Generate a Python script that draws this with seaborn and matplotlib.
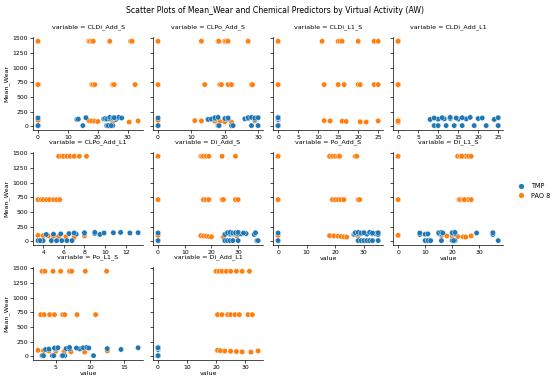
import matplotlib
matplotlib.use("Agg")
import matplotlib.pyplot as plt
import numpy as np
import pandas as pd
import seaborn as sns

# samples: 8 x PAO 8 @1450, 8 x PAO 8 @710, 8 x PAO 8 low, 8 x TMP @10, 8 x TMP @~120, 8 x TMP @~140
fluid = ["PAO 8"] * 24 + ["TMP"] * 24
mean_wear = (
    [1450] * 8
    + [710] * 8
    + [100, 95, 90, 85, 80, 75, 70, 90]
    + [10] * 8
    + [115, 120, 125, 130, 120, 125, 130, 115]
    + [140, 145, 150, 140, 145, 150, 140, 145]
)

cldi_add_s = [0, 17, 17.5, 18, 18.5, 24, 31, 31.5,
              0, 18, 18.5, 19, 25, 25.5, 32.5, 0,
              0, 17, 18, 19, 20, 25, 30.5, 33.5,
              0, 15, 23, 24, 25, 0, 23.5, 24.5,
              13, 13.5, 22, 22.5, 23, 24, 25, 26,
              0, 16, 24, 25, 26, 27, 28, 25.5]
clpo_add_s = [0, 13, 18, 20, 20.5, 21, 27, 18.2,
              0, 14, 18.5, 19, 21, 22, 28, 28.3,
              0, 11, 13, 17, 18.5, 20, 22, 29,
              0, 18, 22, 22.5, 28, 30, 0, 18.3,
              15, 16, 17, 20, 21, 26, 27, 29,
              0, 17, 18, 21, 27, 28, 29, 30]
cldi_l1_s = [0, 11, 15, 15.5, 16, 20, 24, 25,
             0, 11.5, 15, 16.5, 20, 20.5, 24, 25,
             0, 11.5, 13, 16, 17, 20.5, 22, 25,
             0, 0, 0, 0, 0, 0, 0, 0,
             0, 0, 0, 0, 0, 0, 0, 0,
             0, 0, 0, 0, 0, 0, 0, 0]
cldi_add_l1 = [0, 0, 0, 0, 0, 0, 0, 0,
               0, 0, 0, 0, 0, 0, 0, 0,
               0, 0, 0, 0, 0, 0, 0, 0,
               9, 10, 12, 14, 16, 19, 22, 25,
               8, 10, 11.5, 13, 15, 17, 20, 24,
               9, 11, 13, 14.5, 16, 18, 21, 25]
clpo_add_l1 = [5.5, 5.8, 6.0, 6.3, 6.6, 7.0, 7.5, 8.2,
               3.5, 3.8, 4.0, 4.3, 4.6, 5.0, 5.3, 5.6,
               3.5, 4.0, 4.5, 5.0, 5.5, 6.2, 7.0, 8.0,
               3.5, 4.0, 4.8, 5.3, 5.8, 6.3, 6.8, 3.7,
               4.3, 5.0, 5.7, 6.5, 7.2, 8.0, 9.0, 9.5,
               7.0, 8.0, 9.0, 9.9, 10.8, 11.5, 12.4, 13.2]
di_add_s = [0, 16, 16.5, 17, 18, 19, 24, 29,
            0, 17, 18, 19, 24, 24.5, 29, 30,
            0, 16, 17, 18, 19, 20, 24.5, 29.5,
            0, 25, 26, 27, 28, 30, 37, 37.5,
            25, 27, 28, 29, 30, 31, 33, 36,
            0, 26, 27, 28, 29, 30, 32, 36.5]
po_add_s = [0, 18, 19, 20, 21, 27, 27.5, 21.5,
            0, 19, 20, 21, 22, 23, 28, 28.5,
            0, 18, 19.5, 21, 22, 23, 24, 28,
            0, 28, 29, 30, 31, 32, 33, 35,
            26.5, 27, 28, 29, 31, 33, 34, 35,
            0, 27, 28, 29, 30, 32, 33, 35]
di_l1_s = [0, 22, 23, 24, 25, 26, 27, 23.5,
           0, 22.5, 23, 24, 25, 26, 27, 24.5,
           0, 16, 18, 20, 22, 24, 25, 27,
           10, 11, 12, 16, 20, 21, 37, 20.5,
           8, 10, 11, 15, 16, 20, 21, 35,
           8, 15, 16, 16.5, 20, 21, 29, 35]
po_l1_s = [3.0, 3.4, 4.6, 5.7, 7.0, 7.3, 9.3, 12.4,
           2.8, 3.3, 4.1, 4.8, 6.0, 6.3, 8.1, 10.8,
           2.4, 3.2, 4.0, 5.0, 6.2, 7.2, 9.2, 12.5,
           3.0, 4.5, 5.9, 6.3, 10.5, 3.2, 4.7, 6.0,
           3.5, 4.0, 5.0, 6.5, 7.0, 8.5, 12.5, 14.5,
           4.8, 5.3, 7.0, 8.0, 9.0, 9.5, 9.8, 17.0]
di_add_l1 = [20, 21, 22, 23.5, 25, 27, 29, 31.5,
             20.5, 22, 24, 25, 26.5, 28, 31, 32.5,
             20.5, 21.5, 23, 25, 27, 29, 32, 34.5,
             0, 0, 0, 0, 0, 0, 0, 0,
             0, 0, 0, 0, 0, 0, 0, 0,
             0, 0, 0, 0, 0, 0, 0, 0]

predictors = {
    "CLDi_Add_S": cldi_add_s,
    "CLPo_Add_S": clpo_add_s,
    "CLDi_L1_S": cldi_l1_s,
    "CLDi_Add_L1": cldi_add_l1,
    "CLPo_Add_L1": clpo_add_l1,
    "Di_Add_S": di_add_s,
    "Po_Add_S": po_add_s,
    "Di_L1_S": di_l1_s,
    "Po_L1_S": po_l1_s,
    "Di_Add_L1": di_add_l1,
}

wide = pd.DataFrame({"Fluid": fluid, "Mean_Wear": mean_wear, **predictors})
long = wide.melt(id_vars=["Fluid", "Mean_Wear"], value_vars=list(predictors))

plt.rcParams["font.size"] = 4.6
plt.rcParams["xtick.labelsize"] = 4.4
plt.rcParams["ytick.labelsize"] = 4.4
plt.rcParams["axes.labelsize"] = 4.6
plt.rcParams["axes.titlesize"] = 4.6
plt.rcParams["legend.fontsize"] = 4.7
plt.rcParams["xtick.major.size"] = 2
plt.rcParams["ytick.major.size"] = 2
plt.rcParams["xtick.major.width"] = 0.5
plt.rcParams["ytick.major.width"] = 0.5
plt.rcParams["axes.linewidth"] = 0.5
plt.rcParams["xtick.major.pad"] = 1.5
plt.rcParams["ytick.major.pad"] = 1.5

g = sns.relplot(
    data=long,
    x="value",
    y="Mean_Wear",
    hue="Fluid",
    hue_order=["TMP", "PAO 8"],
    col="variable",
    col_wrap=4,
    kind="scatter",
    facet_kws={"sharex": False, "sharey": True},
    height=1.0,
    aspect=1.0,
    s=15,
    linewidth=0.3,
)

g.figure.set_size_inches(5.5, 3.82)
g.figure.subplots_adjust(left=0.06, right=0.915, top=0.903, bottom=0.058,
                         wspace=0.09, hspace=0.24)
for ax in g.axes.flat:
    ax.xaxis.labelpad = 1
    ax.yaxis.labelpad = 2
    ax.title.set_y(0.98)

sns.move_legend(g, "center left", bbox_to_anchor=(0.925, 0.5), title=None,
                frameon=False, markerscale=0.9, handletextpad=0.5)
g.figure.suptitle("Scatter Plots of Mean_Wear and Chemical Predictors by Virtual Activity (AW)",
                  fontsize=5.6, y=0.985)

g.figure.savefig("out.png", dpi=100)
